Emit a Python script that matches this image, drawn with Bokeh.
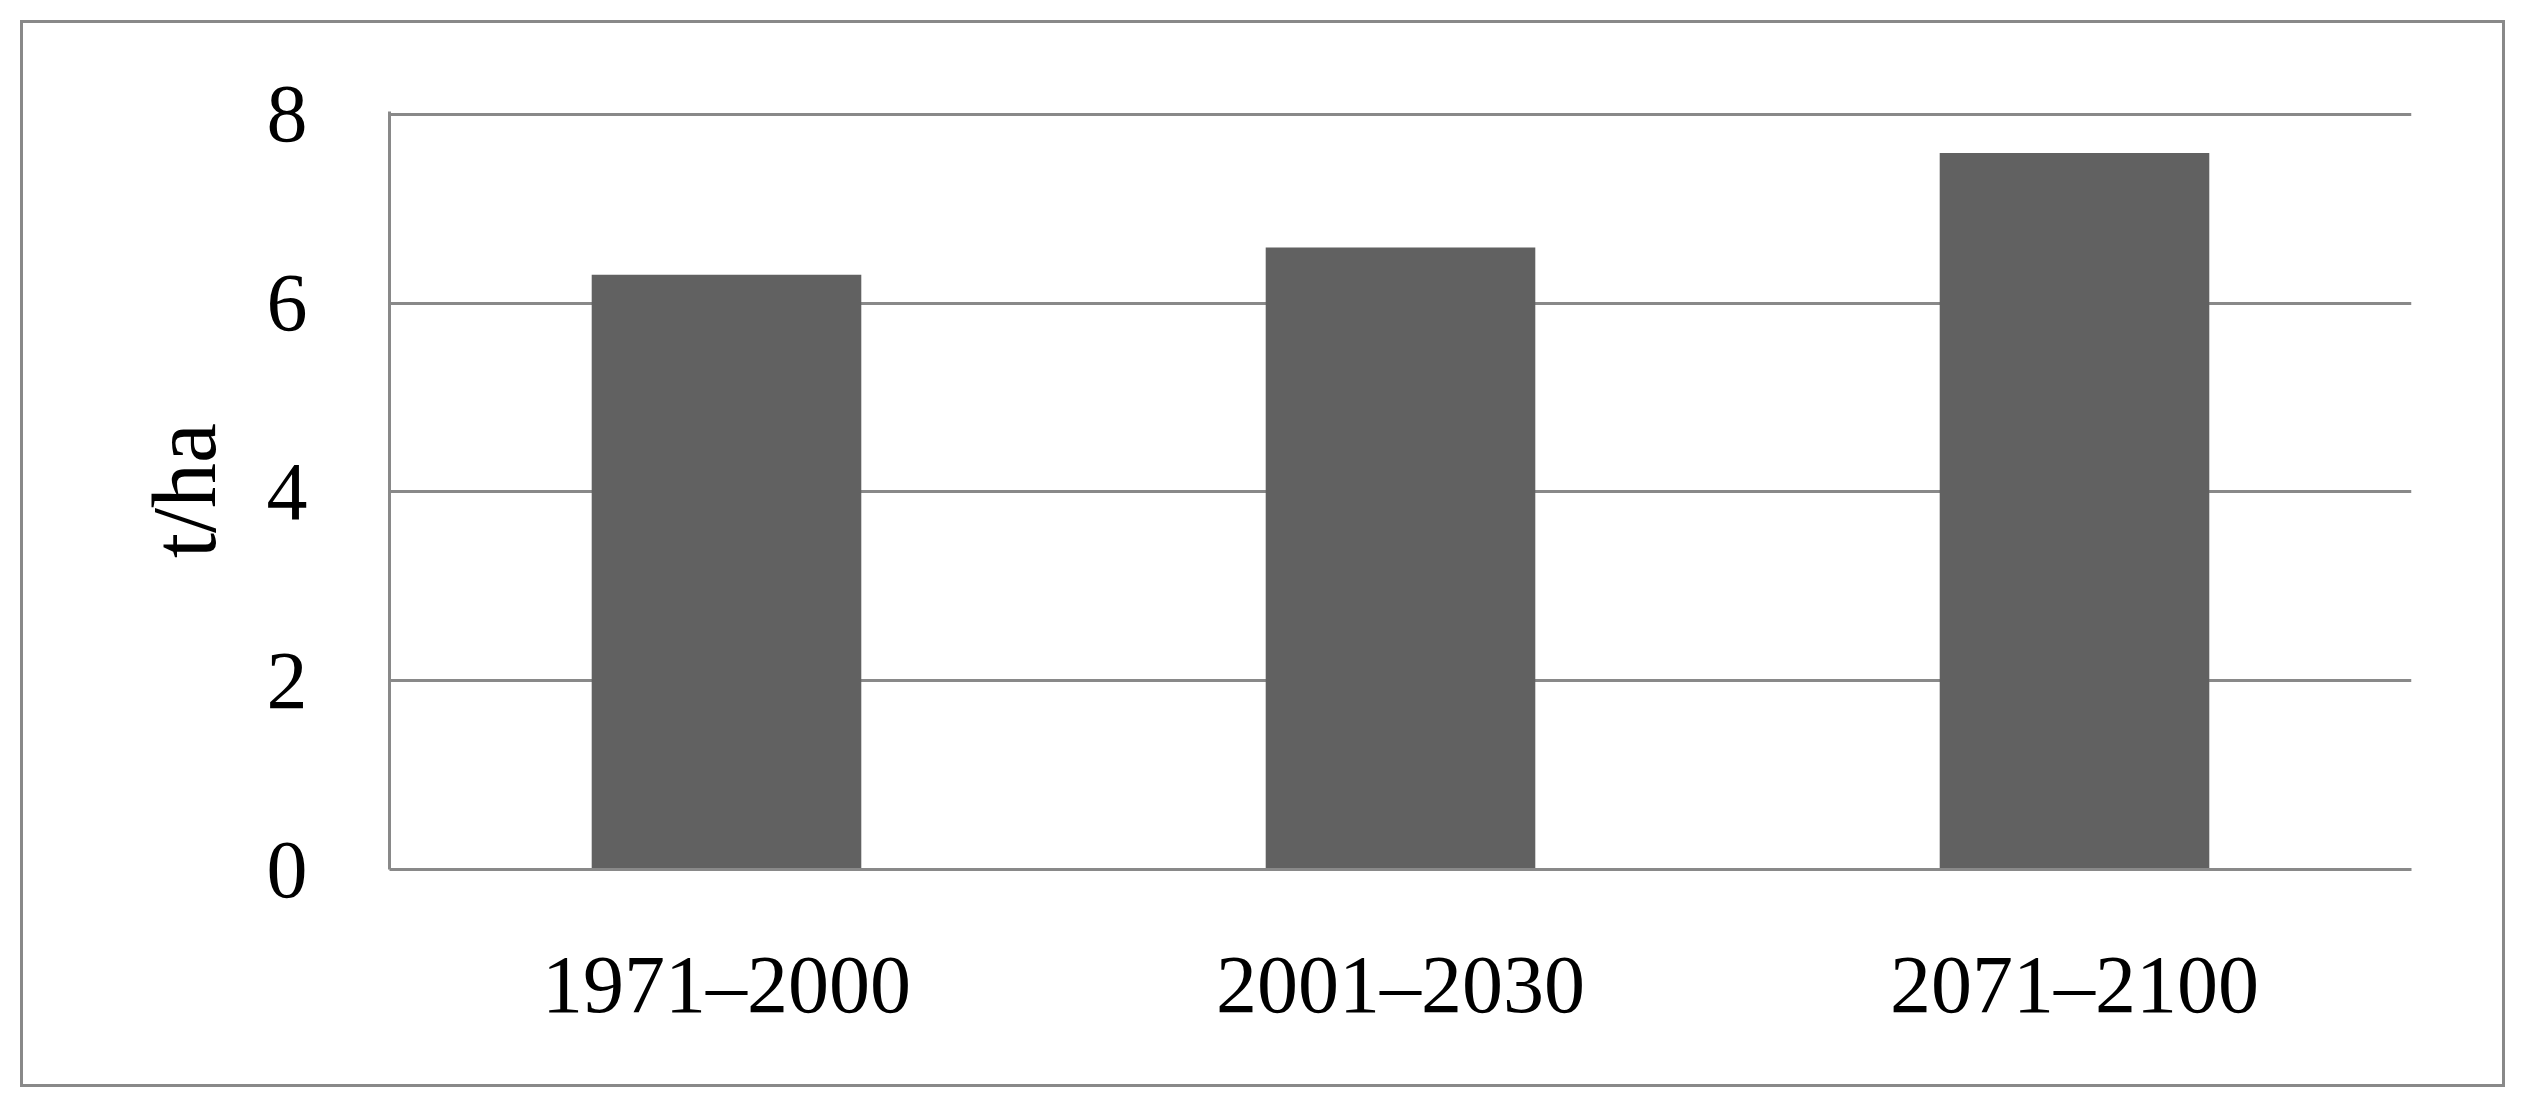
from bokeh.plotting import figure
from bokeh.models import Range1d, FactorRange, ColumnDataSource, FixedTicker, InlineStyleSheet
from bokeh.embed import file_html
from bokeh.resources import INLINE

periods = ["1971–2000", "2001–2030", "2071–2100"]
yield_t_ha = [6.3, 6.59, 7.59]
y_ticks = [0, 2, 4, 6, 8]

src = ColumnDataSource(dict(period=periods, value=yield_t_ha))

GRAY = "#898989"
FONT = "Liberation Serif"

p = figure(
    x_range=FactorRange(*periods, range_padding=0),
    y_range=Range1d(0, 8.03),
    width=2485, height=1067,
    output_backend="svg", toolbar_location=None,
    min_border_left=366, min_border_right=97,
    min_border_top=88, min_border_bottom=221,
)
p.stylesheets = [InlineStyleSheet(css=(
    ":host { border: 3px solid " + GRAY + " !important; "
    "margin-left: 20px !important; margin-top: 20px !important; }"
))]

p.vbar(x="period", top="value", width=0.4, source=src,
       fill_color="#616161", line_color=None)

p.outline_line_color = None
p.background_fill_color = "white"
p.border_fill_color = "white"

p.xgrid.grid_line_color = None
p.ygrid.grid_line_color = GRAY
p.ygrid.grid_line_width = 3
p.ygrid.ticker = FixedTicker(ticks=y_ticks)

p.yaxis.ticker = FixedTicker(ticks=y_ticks)
for ax in (p.xaxis, p.yaxis):
    ax.axis_line_color = GRAY
    ax.axis_line_width = 3
    ax.major_tick_in = 0
    ax.major_tick_out = 0
    ax.minor_tick_line_color = None
    ax.major_label_text_font = FONT
    ax.major_label_text_font_size = "82px"
    ax.major_label_text_color = "black"

p.yaxis.major_label_standoff = 82
p.xaxis.major_label_standoff = 69
p.yaxis.axis_label = "t/ha"
p.yaxis.axis_label_text_font = FONT
p.yaxis.axis_label_text_font_size = "90px"
p.yaxis.axis_label_text_font_style = "normal"
p.yaxis.axis_label_text_color = "black"
p.yaxis.axis_label_standoff = 30

open("out.html", "w").write(file_html(p, INLINE))
